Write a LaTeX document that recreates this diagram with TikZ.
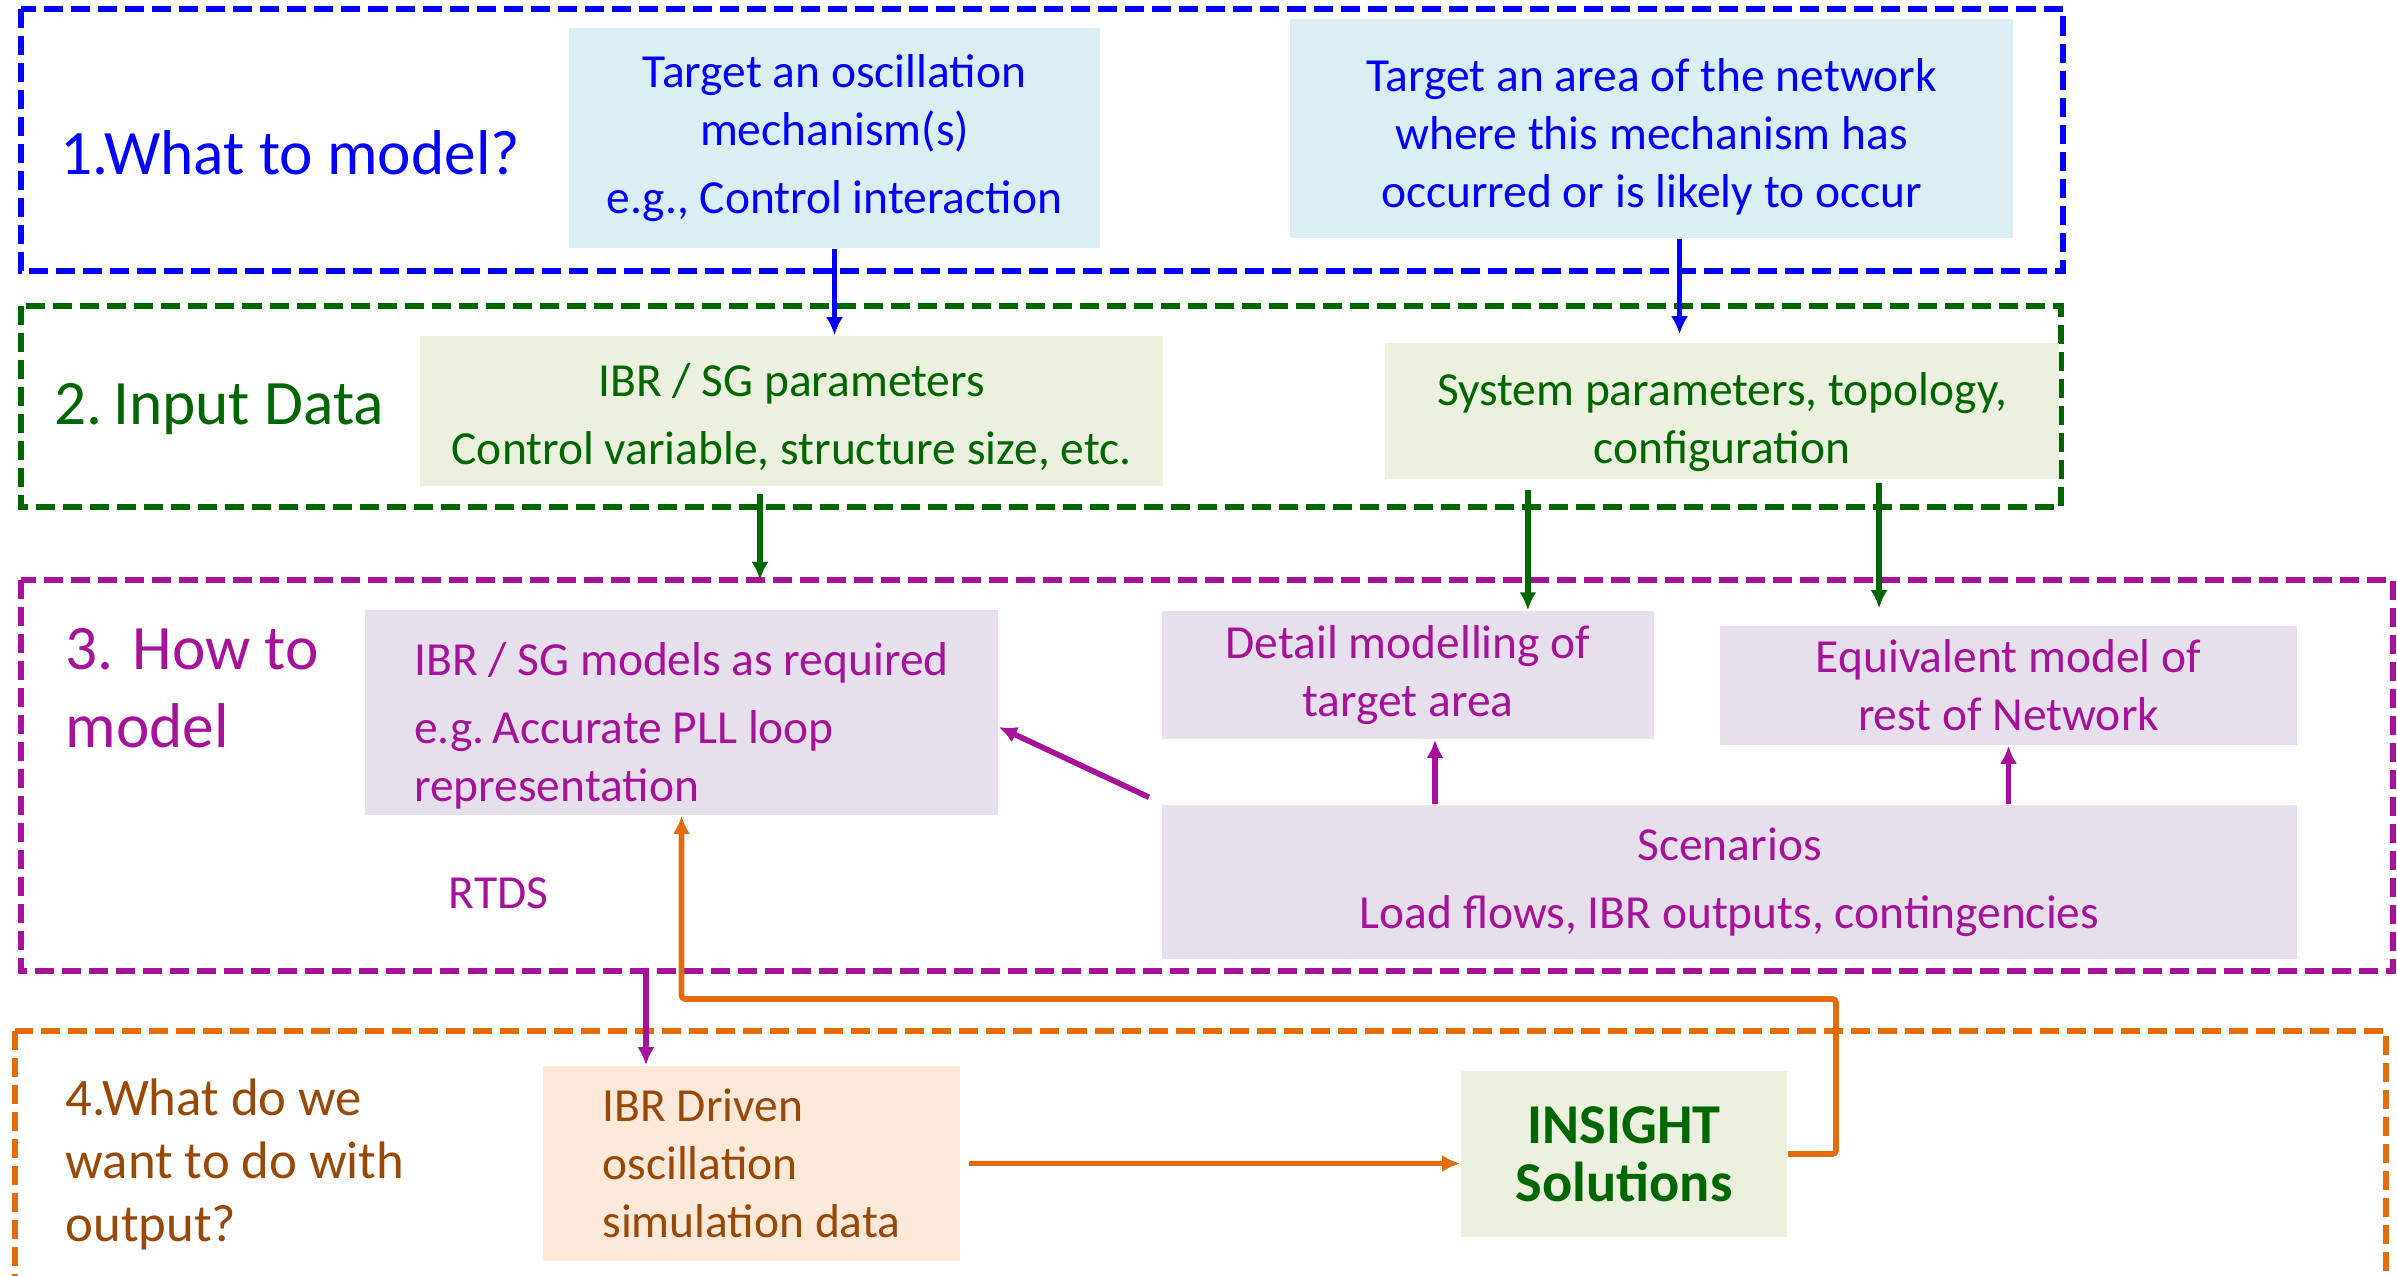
\documentclass[tikz,border=0pt]{standalone}
\usepackage{fontspec}
\setmainfont{Carlito}
\usetikzlibrary{arrows.meta}
\definecolor{secblue}{HTML}{0000FF}
\definecolor{fillblue}{HTML}{DAEEF3}
\definecolor{secgreen}{HTML}{006600}
\definecolor{fillgreen}{HTML}{EBF1DE}
\definecolor{secmag}{HTML}{A6129A}
\definecolor{fillmag}{HTML}{E6E0EC}
\definecolor{secorange}{HTML}{E46C0A}
\definecolor{fillorange}{HTML}{FDE9D9}
\definecolor{secbrown}{HTML}{984807}
\newcommand{\boxstrut}[1]{\rule{0pt}{#1}}
\tikzset{
  secframe/.style={line width=1.5pt, dash pattern=on 0.19cm off 0.08cm},
  infobox/.style={inner sep=0pt, align=center, font=\fontsize{13.5}{16.5}\selectfont},
  seclabel/.style={anchor=base west, inner sep=0pt, align=left, font=\fontsize{18}{22}\selectfont},
  conn/.style={-{Latex[length=0.18cm,width=0.17cm]}, line width=1.6pt},
}
\begin{document}
\begin{tikzpicture}[x=0.01cm, y=-0.01cm]
\clip (0,0) rectangle (2397,1276);
\coordinate (f3nw) at (21,580);
\coordinate (f3se) at (2393,971);
\coordinate (loop) at (1836,999);

\draw[secframe, secblue] (21,9) rectangle (2063,271);
\draw[secframe, secgreen] (21,306) rectangle (2061,507);
\draw[secframe, secmag] (f3nw) rectangle (f3se);
\draw[secframe, secorange] (15,1031) rectangle (2386,1330);

\node[seclabel, text=secblue] (l1) at (60,175) {1.What to model?};
\node[seclabel, text=secgreen] (l2) at (54,424) {2.\,Input Data};
\node[seclabel, text=secmag, font=\fontsize{18}{21.9}\selectfont] (l3) at (65,747) {3. How to\\model};
\node[seclabel, text=secbrown, font=\fontsize{15}{17.9}\selectfont] (l4) at (65,1241) {4.What do we\\want to do with\\output?};
\node[seclabel, text=secmag, font=\fontsize{13.5}{16.5}\selectfont] (rtds) at (448,908) {RTDS};

\node[infobox, fill=fillblue, text=secblue, minimum width=5.31cm, minimum height=2.2cm] (t1) at (834.5,138) {Target an oscillation\\mechanism(s)\\[0.1cm]e.g., Control interaction};
\node[infobox, fill=fillblue, text=secblue, minimum width=7.23cm, minimum height=2.19cm] (t2) at (1651.5,128.5) {\boxstrut{0.5cm}Target an area of the network\\where this mechanism has\\occurred or is likely to occur};
\node[infobox, fill=fillgreen, text=secgreen, minimum width=7.43cm, minimum height=1.5cm] (p1) at (791.5,411) {\boxstrut{0.46cm}IBR / SG parameters\\[0.1cm]Control variable, structure size, etc.};
\node[infobox, fill=fillgreen, text=secgreen, minimum width=6.74cm, minimum height=1.36cm] (p2) at (1722,411) {\boxstrut{0.56cm}System parameters, topology,\\configuration};
\node[infobox, fill=fillmag, text=secmag, align=left, minimum width=6.33cm, minimum height=2.05cm] (m1) at (681.5,712.5) {\boxstrut{0.6cm}IBR / SG models as required\\[0.1cm]e.g.\,Accurate PLL loop\\representation};
\node[infobox, fill=fillmag, text=secmag, minimum width=4.92cm, minimum height=1.28cm] (dm) at (1408,675) {Detail modelling of\\target area};
\node[infobox, fill=fillmag, text=secmag, minimum width=5.77cm, minimum height=1.19cm] (eq) at (2008.5,685.5) {Equivalent model of\\rest of Network};
\node[infobox, fill=fillmag, text=secmag, minimum width=11.35cm, minimum height=1.54cm] (sc) at (1729.5,882) {Scenarios\\[0.1cm]Load flows, IBR outputs, contingencies};
\node[infobox, fill=fillorange, text=secbrown, align=left, minimum width=4.17cm, minimum height=1.95cm] (ibd) at (751.5,1163.5) {IBR Driven\\oscillation\\simulation data};
\node[infobox, fill=fillgreen, text=secgreen, font=\fontsize{16}{16.5}\selectfont\bfseries, minimum width=3.26cm, minimum height=1.66cm] (ins) at (1624,1154) {INSIGHT\\Solutions};

\draw[conn, secblue, line width=1.4pt] (t1.south) -- (t1.south |- p1.north);
\draw[conn, secblue, line width=1.4pt, shorten >=0.08cm] ([xshift=0.28cm]t2.south) -- ([xshift=0.28cm]t2.south |- p2.north);
\draw[conn, secgreen, shorten <=0.07cm] ([xshift=-0.315cm]p1.south) -- ([xshift=-0.315cm]p1.south |- f3nw);
\draw[conn, secgreen, shorten <=0.1cm] ([xshift=-1.94cm]p2.south) -- ([xshift=-1.94cm]p2.south |- dm.north);
\draw[conn, secgreen, shorten <=0.03cm, shorten >=0.17cm] ([xshift=1.57cm]p2.south) -- ([xshift=1.57cm]p2.south |- eq.north);
\draw[conn, secmag] ([xshift=0.27cm]dm.south |- sc.north) -- ([xshift=0.27cm]dm.south);
\draw[conn, secmag] (eq.south |- sc.north) -- (eq.south);
\draw[conn, secmag] ([shift={(-0.12cm,0.07cm)}]sc.north west) -- ([yshift=-0.145cm]m1.east);
\draw[conn, secmag] ([xshift=-1.055cm]ibd.north |- f3se) -- ([xshift=-1.055cm]ibd.north);
\draw[conn, secorange] ([xshift=0.08cm]ibd.east) -- (ibd.east -| ins.west);
\draw[conn, secorange, rounded corners=1pt] (ins.east) -| (loop) -| (m1.south);
\end{tikzpicture}
\end{document}
